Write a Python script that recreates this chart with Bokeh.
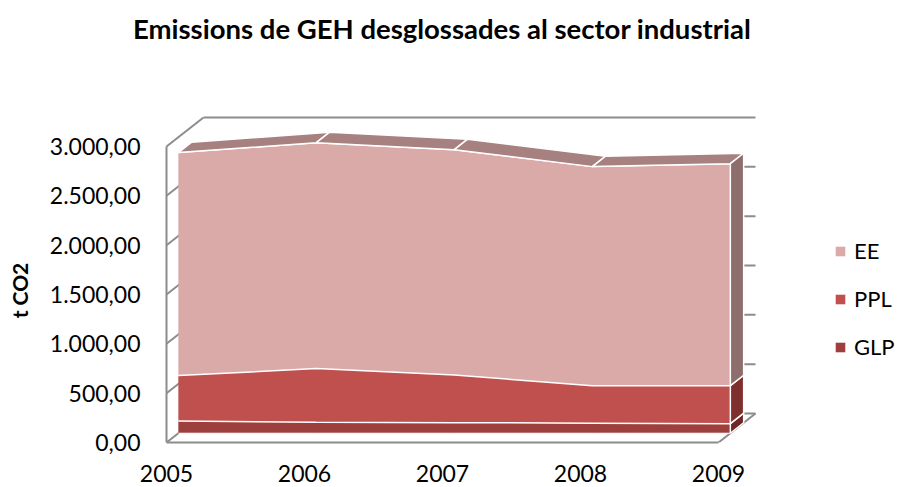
from bokeh.plotting import figure
from bokeh.models import Range1d, FixedTicker, Legend, LegendItem, Label, LinearAxis
from bokeh.embed import file_html
from bokeh.resources import INLINE

# ---------------- data ----------------
years = ["2005", "2006", "2007", "2008", "2009"]
glp = [123, 112, 107, 102, 97]
ppl = [461, 543, 482, 380, 385]
ee = [2260, 2290, 2285, 2220, 2250]
y_ticks = [0, 500, 1000, 1500, 2000, 2500, 3000]
y_tick_labels = ["0,00", "500,00", "1.000,00", "1.500,00", "2.000,00", "2.500,00", "3.000,00"]
series_names = ["EE", "PPL", "GLP"]
title_text = "Emissions de GEH desglossades  al sector industrial"
y_title = "t CO2"

# ---------------- styles ----------------
front_col = {"EE": "#d9aaa8", "PPL": "#c0504d", "GLP": "#9d3f3d"}
side_col = {"EE": "#8e6e6d", "PPL": "#7f2f2e", "GLP": "#6e2826"}
top_col = "#a7817f"
wall_col = "#8c8c8c"
FONT = "Lato"

W, H = 898, 487
FL, FR, FT, FB = 132, 898, 0, 442      # frame edges in figure px
X0_PX = 166                            # px of the front-left corner (category 0)
PX_PER_CAT = 138.0
UNITS_PER_PX = 3000.0 / 296.0
x_start = -(X0_PX - FL) / PX_PER_CAT
x_end = (FR - X0_PX) / PX_PER_CAT
y_end = (FB - FT) * UNITS_PER_PX
DX = 37.0 / PX_PER_CAT          # depth offset of the wall (in category units)
DY = 29.0 * UNITS_PER_PX        # depth offset of the wall (in value units)
D0, D1 = 0.32, 0.68             # front/back depth of the series
TITLE_X_PX, TITLE_Y_PX = 445, 28
YTITLE_Y_PX = 290

p = figure(width=W, height=H, output_backend="svg", toolbar_location=None,
           x_range=Range1d(x_start, x_end), y_range=Range1d(0, y_end),
           min_border_left=FL, min_border_right=W - FR,
           min_border_top=FT, min_border_bottom=H - FB,
           outline_line_color=None, background_fill_color="white")
p.grid.visible = False

n = len(years)
last = n - 1
ymax = y_ticks[-1]

# ---------------- walls ----------------
x0s, y0s, x1s, y1s = [0], [0], [0], [ymax]      # front-left edge of the wall
for v in y_ticks:
    x0s.append(0); y0s.append(v); x1s.append(DX); y1s.append(v + DY)
    x0s.append(DX); y0s.append(v + DY); x1s.append(last + DX); y1s.append(v + DY)
x0s.append(last); y0s.append(0); x1s.append(last + DX); y1s.append(DY)
p.segment(x0=x0s, y0=y0s, x1=x1s, y1=y1s, line_color=wall_col, line_width=2)

# ---------------- stacked areas (front faces) ----------------
base = D0 * DY
xf = [i + D0 * DX for i in range(n)]
glp_top = [base + g for g in glp]
ppl_top = [glp_top[i] + ppl[i] for i in range(n)]
ee_top = [ppl_top[i] + ee[i] for i in range(n)]
lows = {"GLP": [base] * n, "PPL": glp_top, "EE": ppl_top}
highs = {"GLP": glp_top, "PPL": ppl_top, "EE": ee_top}

renderers = {}
for s in ["GLP", "PPL", "EE"]:
    renderers[s] = p.varea(x=xf, y1=lows[s], y2=highs[s], fill_color=front_col[s])
for s in ["GLP", "PPL", "EE"]:
    p.line(xf, highs[s], line_color="white", line_width=1.5)
p.line(xf, [base] * n, line_color="white", line_width=1)

# top shelf of the stack
sx, sy = [], []
for i in range(n - 1):
    sx.append([i + D0 * DX, i + 1 + D0 * DX, i + 1 + D1 * DX, i + D1 * DX])
    sy.append([ee_top[i], ee_top[i + 1], ee_top[i + 1] + (D1 - D0) * DY, ee_top[i] + (D1 - D0) * DY])
p.patches(sx, sy, fill_color=top_col, line_color="white", line_width=1.5)

# right side faces
rx, ry, rc = [], [], []
for s in ["GLP", "PPL", "EE"]:
    lo, hi = lows[s][last], highs[s][last]
    rx.append([last + D0 * DX, last + D0 * DX, last + D1 * DX, last + D1 * DX])
    ry.append([lo, hi, hi + (D1 - D0) * DY, lo + (D1 - D0) * DY])
    rc.append(side_col[s])
p.patches(rx, ry, fill_color=rc, line_color="white", line_width=1.5)

# ---------------- axes ----------------
ya = p.yaxis[0]
ya.ticker = FixedTicker(ticks=y_ticks)
ya.major_label_overrides = {t: l for t, l in zip(y_ticks, y_tick_labels)}
ya.axis_line_color = None
ya.major_tick_line_color = None
ya.minor_tick_line_color = None
ya.major_tick_out = 0
ya.major_tick_in = 0
ya.major_label_standoff = FL - (X0_PX - 26)
ya.major_label_text_font = FONT
ya.major_label_text_font_size = "23px"
ya.major_label_text_color = "black"

# outer left axis that only carries the vertical title, placed at its height
ytitle_pos = (FB - YTITLE_Y_PX) * UNITS_PER_PX
ya2 = LinearAxis(ticker=FixedTicker(ticks=[ytitle_pos]),
                 major_label_overrides={ytitle_pos: y_title},
                 major_label_orientation="vertical",
                 axis_line_color=None, major_tick_line_color=None, minor_tick_line_color=None,
                 major_tick_out=0, major_tick_in=0, major_label_standoff=15,
                 major_label_text_font=FONT, major_label_text_font_size="21px",
                 major_label_text_font_style="bold", major_label_text_color="black")
p.add_layout(ya2, "left")

xa = p.xaxis[0]
xa.ticker = FixedTicker(ticks=list(range(n)))
xa.major_label_overrides = {i: y for i, y in enumerate(years)}
xa.bounds = (0, last)
xa.axis_line_color = wall_col
xa.axis_line_width = 2
xa.major_tick_line_color = None
xa.minor_tick_line_color = None
xa.major_tick_out = 0
xa.major_tick_in = 0
xa.major_label_standoff = 22
xa.major_label_text_font = FONT
xa.major_label_text_font_size = "23px"
xa.major_label_text_color = "black"

# ---------------- title ----------------
title = Label(x=(TITLE_X_PX - X0_PX) / PX_PER_CAT, y=(FB - TITLE_Y_PX) * UNITS_PER_PX,
              text=title_text, text_align="center", text_baseline="middle",
              text_font=FONT, text_font_size="27.5px", text_font_style="bold",
              text_color="black")
p.add_layout(title)

# ---------------- legend ----------------
legend = Legend(items=[LegendItem(label=s, renderers=[renderers[s]]) for s in series_names],
                location=(834 - FL, 82), orientation="vertical",
                glyph_width=12, glyph_height=12, label_height=24, spacing=21,
                label_standoff=8, padding=0, margin=0,
                border_line_color=None, background_fill_alpha=0,
                label_text_font=FONT, label_text_font_size="22px", label_text_color="black")
p.add_layout(legend)

open("out.html", "w").write(file_html(p, INLINE))
